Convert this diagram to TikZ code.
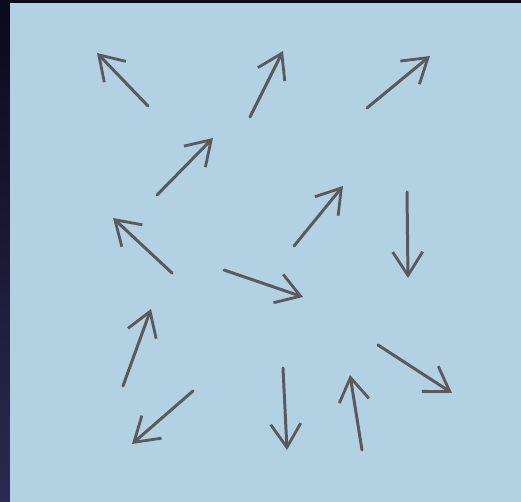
\documentclass[tikz,border=0pt]{standalone}
\usetikzlibrary{arrows.meta}

\definecolor{panelblue}{RGB}{178,210,227}
\definecolor{navytop}{RGB}{10,10,28}
\definecolor{navybot}{RGB}{42,42,82}
\definecolor{inkgrey}{RGB}{90,90,94}

\begin{document}
\begin{tikzpicture}[
    x=0.02cm, y=0.02cm,
    vec/.style={-{Straight Barb[length=0.47cm,width=0.6cm,line width=1.6pt]},line width=1.7pt,inkgrey,line cap=round},
]

% =====================================================
% background : dark frame and blue sheet
% =====================================================

\useasboundingbox (0,0) rectangle (521,502);
\shade[top color=navytop,bottom color=navybot] (0,0) rectangle (521,502);
\fill[panelblue] (10,0) rectangle (521,499);

% =====================================================
% arrows : tail (t) and head (h)
% =====================================================

\foreach \i/\tx/\ty/\hx/\hy in {
    1/148/396/97/449,
    2/250/385/283/451,
    3/367/394/430/446,
    4/157/307/213/364,
    5/294/256/343/316,
    6/407/310/408/224,
    7/172/229/113/284,
    8/224/232/303/205,
    9/123/116/151/193,
    10/378/157/452/109,
    11/193/111/132/58,
    12/283/134/287/52,
    13/362/52/350/127}
{
    \coordinate (t\i) at (\tx,\ty);
    \coordinate (h\i) at (\hx,\hy);
    \draw[vec] (t\i) -- (h\i);
}

\end{tikzpicture}
\end{document}
